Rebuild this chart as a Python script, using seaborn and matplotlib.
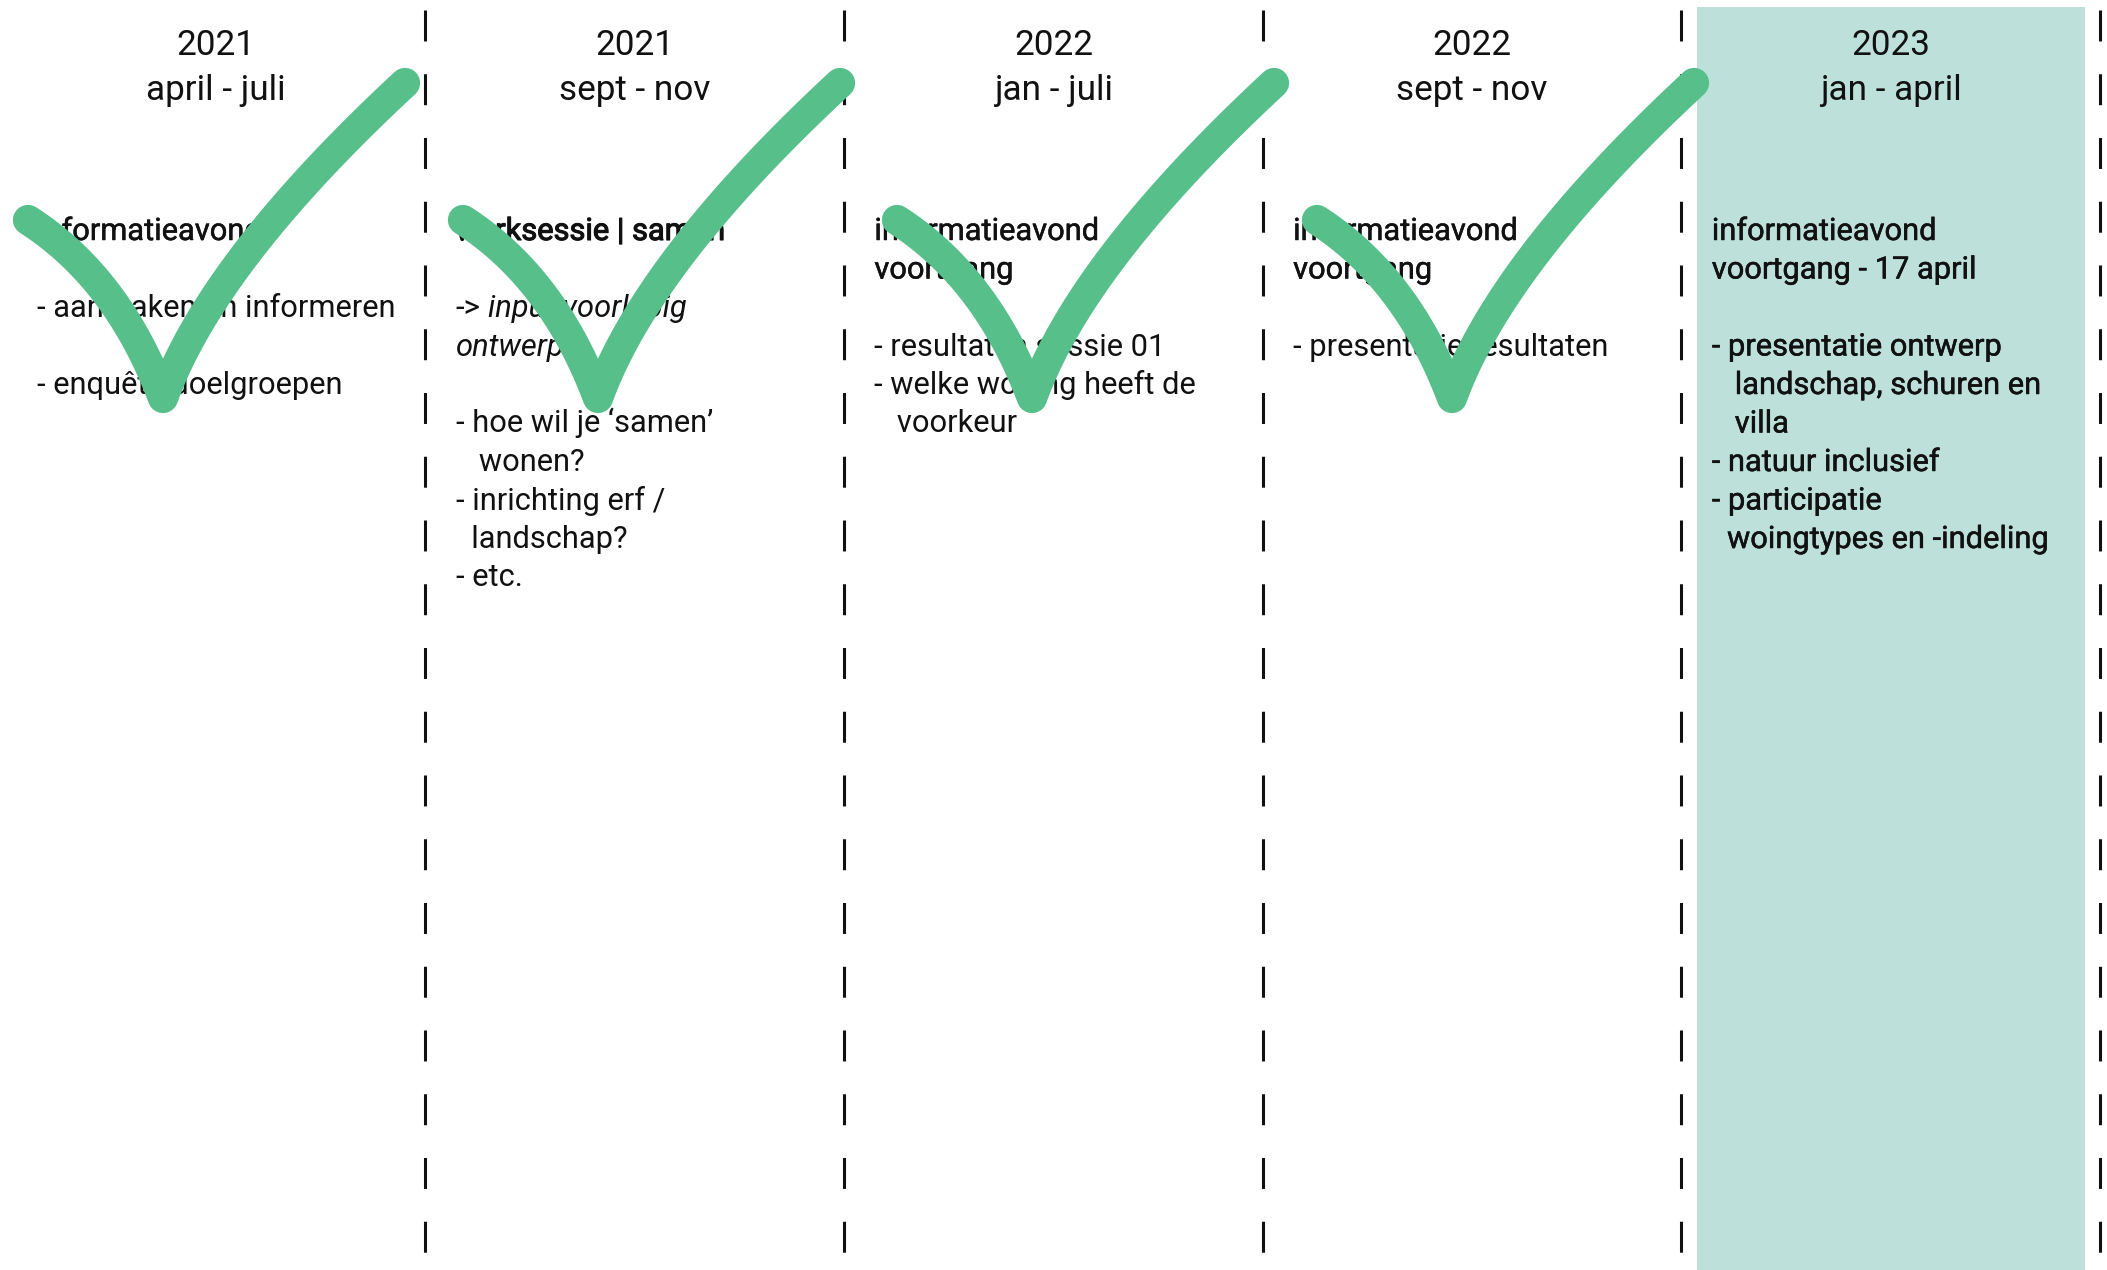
import numpy as np
import pandas as pd
import matplotlib
matplotlib.use("Agg")
import matplotlib.pyplot as plt
import matplotlib.patheffects as pe
import seaborn as sns

# ---------------- data ----------------
PERIOD_YEARS = ["2021", "2021", "2022", "2022", "2023"]
PERIOD_MONTHS = ["april - juli", "sept - nov", "jan - juli", "sept - nov", "jan - april"]
PERIOD_DONE = [True, True, True, True, False]
PERIOD_CURRENT = [0, 0, 0, 0, 1]
EVENT_TITLES = [
    ["informatieavond"],
    ["werksessie | samen"],
    ["informatieavond", "voortgang"],
    ["informatieavond", "voortgang"],
    ["informatieavond", "voortgang - 17 april"],
]
EVENT_SUBTITLE_PREFIX = ["", "-> ", "", "", ""]
EVENT_SUBTITLES = [[], ["input voorlopig", "ontwerp"], [], [], []]
EVENT_ITEMS = [
    ["- aanmaken en informeren", "", "- enquête doelgroepen"],
    ["- hoe wil je ‘samen’", "   wonen?", "- inrichting erf /", "  landschap?", "- etc."],
    ["- resultaten sessie 01", "- welke woning heeft de", "   voorkeur"],
    ["- presentatie resultaten"],
    ["- presentatie ontwerp", "   landschap, schuren en", "   villa",
     "- natuur inclusief", "- participatie", "  woingtypes en -indeling"],
]

# ---------------- layout / style ----------------
FIG_W, FIG_H, DPI = 2107, 1270, 100
COL0_PX, COL_STEP_PX = 216.0, 418.7
INK = "#111111"
GREEN = "#57bf8a"
TEAL = "#bde0da"
FS_BODY = 22.2
FS_HEAD = 25.3
TITLE_STROKE = [0.35, 0.8, 0.35, 0.35, 0.35]
ITEM_STROKE = [0, 0, 0, 0, 0.35]
CHECK_SHIFT_PX = [0, 435, 869, 1289]

sns.set_theme(style="white")
plt.rcParams["font.family"] = ["Roboto", "DejaVu Sans"]
plt.rcParams["lines.scale_dashes"] = False

fig = plt.figure(figsize=(FIG_W / DPI, FIG_H / DPI), dpi=DPI)
fig.patch.set_facecolor("white")
ax = fig.add_axes([0, 0, 1, 1])


def px2x(px):
    return (px - COL0_PX) / COL_STEP_PX


def py2y(py):
    return FIG_H - py


def weight_fx(w):
    if w <= 0:
        return None
    return [pe.withStroke(linewidth=w, foreground=INK)]


n = len(PERIOD_YEARS)
df = pd.DataFrame({
    "col": np.arange(n),
    "period": [f"{y} {m}" for y, m in zip(PERIOD_YEARS, PERIOD_MONTHS)],
    "current": PERIOD_CURRENT,
})
df["band"] = df["current"] * (FIG_H - 7)

# highlighted current period
sns.barplot(data=df, x="col", y="band", color=TEAL, saturation=1, width=0.927,
            linewidth=0, errorbar=None, ax=ax, zorder=0)

ax.set_xlim(px2x(0), px2x(FIG_W))
ax.set_ylim(0, FIG_H)
ax.axis("off")

# dashed separators
for i in range(n):
    xs = i + 0.5
    ax.plot([xs, xs], [py2y(10), py2y(FIG_H)], color=INK, lw=2.2,
            dashes=(22.3, 23.6), dash_capstyle="butt", zorder=1)

# headers
for i in range(n):
    ax.text(i, py2y(55), PERIOD_YEARS[i], ha="center", va="baseline",
            fontsize=FS_HEAD, color=INK, zorder=3)
    ax.text(i, py2y(100), PERIOD_MONTHS[i], ha="center", va="baseline",
            fontsize=FS_HEAD, color=INK, zorder=3)

# body text
renderer = fig.canvas.get_renderer()
BASE_PY, LINE_PX, LEFT_PX = 240, 38.5, -179
for i in range(n):
    xl = i + LEFT_PX / COL_STEP_PX
    line = 0
    for t in EVENT_TITLES[i]:
        ax.text(xl, py2y(BASE_PY + line * LINE_PX), t, ha="left", va="baseline",
                fontsize=FS_BODY, color=INK, zorder=3,
                path_effects=weight_fx(TITLE_STROKE[i]))
        line += 1
    line += 1
    if EVENT_SUBTITLES[i]:
        for j, t in enumerate(EVENT_SUBTITLES[i]):
            y = py2y(BASE_PY + line * LINE_PX)
            x0 = xl
            if j == 0 and EVENT_SUBTITLE_PREFIX[i]:
                pt = ax.text(xl, y, EVENT_SUBTITLE_PREFIX[i].strip(), ha="left", va="baseline",
                             fontsize=FS_BODY, color=INK, zorder=3)
                w = pt.get_window_extent(renderer=renderer).width
                sp = ax.text(0, 0, "a a", fontsize=FS_BODY)
                sw = sp.get_window_extent(renderer=renderer).width
                sp2 = ax.text(0, 0, "aa", fontsize=FS_BODY)
                sw -= sp2.get_window_extent(renderer=renderer).width
                sp.remove(); sp2.remove()
                x0 = xl + (w + sw) / COL_STEP_PX
            ax.text(x0, y, t, ha="left", va="baseline", fontsize=FS_BODY,
                    style="italic", color=INK, zorder=3)
            line += 1
        line += 1
    for t in EVENT_ITEMS[i]:
        if t:
            ax.text(xl, py2y(BASE_PY + line * LINE_PX), t, ha="left", va="baseline",
                    fontsize=FS_BODY, color=INK, zorder=3,
                    path_effects=weight_fx(ITEM_STROKE[i]))
        line += 1


# check marks over completed periods
def bezier(p0, c, p2, num=40):
    t = np.linspace(0, 1, num)[:, None]
    p0, c, p2 = map(np.asarray, (p0, c, p2))
    return (1 - t) ** 2 * p0 + 2 * (1 - t) * t * c + t ** 2 * p2


left_arm = bezier((28, 220), (118, 278), (163, 398))
right_arm = bezier((163, 398), (212, 262), (405, 83))
check = np.vstack([left_arm, right_arm[1:]])
k = 0
for i in range(n):
    if not PERIOD_DONE[i]:
        continue
    shift = CHECK_SHIFT_PX[k]
    k += 1
    cx = px2x(check[:, 0] + shift)
    cy = py2y(check[:, 1])
    sns.lineplot(x=cx, y=cy, sort=False, estimator=None, color=GREEN,
                 linewidth=21.8, solid_capstyle="round", solid_joinstyle="round",
                 ax=ax, zorder=5)

fig.savefig("out.png", dpi=DPI, facecolor="white")
